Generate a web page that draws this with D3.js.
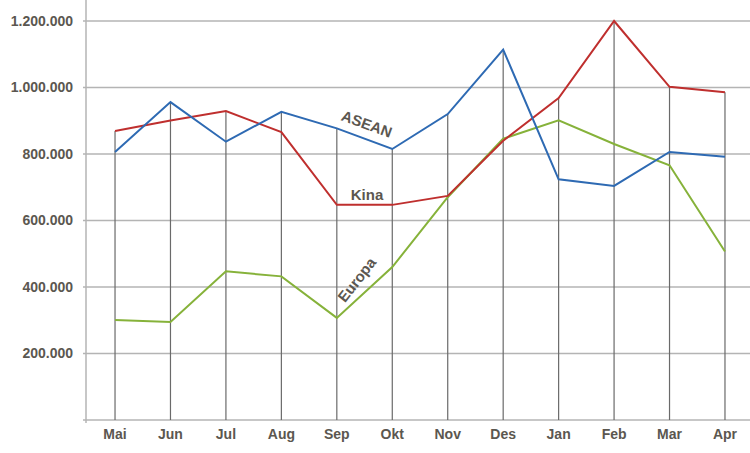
<!DOCTYPE html>
<html><head><meta charset="utf-8">
<script src="https://cdn.jsdelivr.net/npm/d3@7"></script>
<style>body{margin:0;background:#fff}svg{display:block}</style>
</head><body>
<svg id="c" width="750" height="453"></svg>
<script>
const months = ["Mai","Jun","Jul","Aug","Sep","Okt","Nov","Des","Jan","Feb","Mar","Apr"];
const asean  = [806000,956000,837000,927000,877000,815000,920000,1114000,724000,704000,806000,792000];
const kina   = [869000,901000,929000,866000,647000,647000,674000,840000,968000,1200000,1002000,986000];
const europa = [301000,295000,447000,432000,307000,460000,670000,846000,901000,830000,766000,507000];
const yTicks = [200000,400000,600000,800000,1000000,1200000];
const seriesNames = ["ASEAN","Kina","Europa"];
const colors = ["#2e6ab3","#bf2f2e","#86b23a"];

const svg = d3.select("#c");
const x = d3.scalePoint().domain(months).range([87.3,752.7]).padding(0.5);
const y = d3.scaleLinear().domain([0,1200000]).range([420,21]);
const fmt = v => d3.format(",")(v).replace(/,/g,".");
const txt = "#5b5750";
const font = "'Liberation Sans', Arial, sans-serif";

svg.append("g").selectAll("line").data(yTicks).join("line")
  .attr("x1",83).attr("x2",750).attr("y1",d=>y(d)).attr("y2",d=>y(d))
  .attr("stroke","#b4b4b4").attr("stroke-width",1.5);
svg.append("line").attr("x1",83).attr("x2",750).attr("y1",y(0)).attr("y2",y(0))
  .attr("stroke","#b4b4b4").attr("stroke-width",1.5);
svg.append("line").attr("x1",86).attr("x2",86).attr("y1",0).attr("y2",423)
  .attr("stroke","#b4b4b4").attr("stroke-width",1.5);

const all = [asean,kina,europa];
svg.append("g").selectAll("line").data(months).join("line")
  .attr("x1",d=>x(d)).attr("x2",d=>x(d))
  .attr("y1",(d,i)=>y(d3.max(all,s=>s[i]))).attr("y2",y(0))
  .attr("stroke","#6a6a6a").attr("stroke-width",1.2);

svg.append("g").selectAll("text").data(yTicks).join("text")
  .attr("x",73).attr("y",d=>y(d)).attr("dy","0.35em").attr("text-anchor","end")
  .attr("font-family",font).attr("font-weight","bold").attr("font-size",14)
  .attr("fill",txt).text(fmt);
svg.append("g").selectAll("text").data(months).join("text")
  .attr("x",d=>x(d)).attr("y",439).attr("text-anchor","middle")
  .attr("font-family",font).attr("font-weight","bold").attr("font-size",14)
  .attr("fill",txt).text(d=>d);

const line = d3.line().x((d,i)=>x(months[i])).y(d=>y(d));
[europa,kina,asean].forEach((s,k)=>{
  const ci = [2,1,0][k];
  svg.append("path").datum(s).attr("d",line).attr("fill","none")
    .attr("stroke",colors[ci]).attr("stroke-width",2).attr("stroke-linejoin","miter");
});

const lab = [
  {t:seriesNames[0], x:365, y:129, r:20},
  {t:seriesNames[1], x:367, y:200, r:0},
  {t:seriesNames[2], x:361, y:283, r:-52}
];
svg.append("g").selectAll("text").data(lab).join("text")
  .attr("transform",d=>`translate(${d.x},${d.y}) rotate(${d.r})`)
  .attr("text-anchor","middle").attr("font-family",font).attr("font-weight","bold")
  .attr("font-size",15).attr("fill",txt).text(d=>d.t);
</script>
</body></html>
